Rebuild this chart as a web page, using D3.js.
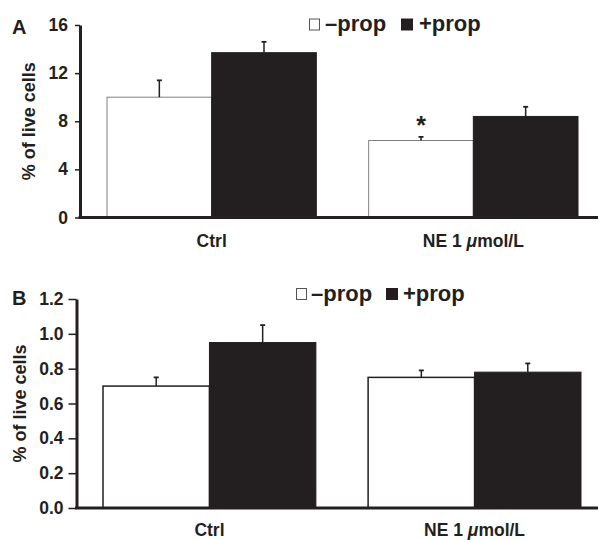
<!DOCTYPE html>
<html>
<head>
<meta charset="utf-8">
<script src="https://cdn.jsdelivr.net/npm/d3@7"></script>
<style>
    body { margin: 0; background: #fff; }
    svg { display: block; font-family: "Liberation Sans", Arial, sans-serif; font-weight: bold; }
</style>
</head>
<body>
<script>
// bar chart, two panels (A and B), -prop / +prop per condition

const categories = ['Ctrl', 'NE 1 μmol/L'];
const seriesNames = ['–prop', '+prop'];

// panel A values (% of live cells) and SEM
const aMinusProp = [10.0, 6.4];
const aMinusPropErr = [1.4, 0.3];
const aPlusProp = [13.7, 8.4];
const aPlusPropErr = [0.9, 0.8];
const aTicks = [0, 4, 8, 12, 16];
// significance marks: [category, series]
const aStars = [['NE 1 μmol/L', '–prop']];

// panel B values and SEM
const bMinusProp = [0.70, 0.75];
const bMinusPropErr = [0.05, 0.04];
const bPlusProp = [0.95, 0.78];
const bPlusPropErr = [0.10, 0.05];
const bTicks = [0, 0.2, 0.4, 0.6, 0.8, 1.0, 1.2];
const bStars = [];

const ink = '#231f20';

let svg = d3.select('body')
    .append('svg')
    .attr('width', 600)
    .attr('height', 540);

/**
 * builds rows for one panel from the value arrays
 */
function makeRows(minus, minusErr, plus, plusErr) {
    return categories.map((c, i) => ({
        category: c,
        values: [
            { series: seriesNames[0], value: minus[i], err: minusErr[i] },
            { series: seriesNames[1], value: plus[i], err: plusErr[i] }
        ]
    }));
}

function drawPanel(rows, ticks, stars, opt) {
    let g = svg.append('g').attr('id', 'panel-' + opt.letter);

    let yScale = d3.scaleLinear()
        .domain([0, d3.max(ticks)])
        .range([opt.bottom, opt.top]);

    // outer band = condition, inner band = series
    let x0 = d3.scaleBand()
        .domain(categories)
        .range([opt.barLeft, opt.barRight])
        .paddingInner(opt.gap);

    let x1 = d3.scaleBand()
        .domain(seriesNames)
        .range([0, x0.bandwidth()]);

    let groups = g.selectAll('g.group')
        .data(rows)
        .join('g')
        .attr('class', 'group')
        .attr('transform', d => `translate(${x0(d.category)},0)`);

    groups.selectAll('rect')
        .data(d => d.values)
        .join('rect')
        .attr('x', d => x1(d.series))
        .attr('y', d => yScale(d.value))
        .attr('width', x1.bandwidth())
        .attr('height', d => yScale(0) - yScale(d.value))
        .attr('fill', d => d.series == seriesNames[0] ? '#fff' : ink)
        .attr('stroke', d => d.series == seriesNames[0] ? opt.whiteStroke : ink)
        .attr('stroke-width', d => d.series == seriesNames[0] ? opt.whiteStrokeWidth : 1);

    //error bars (upper only)
    let errs = groups.selectAll('g.err')
        .data(d => d.values)
        .join('g')
        .attr('class', 'err')
        .attr('transform', d => `translate(${x1(d.series) + x1.bandwidth() / 2},0)`);

    errs.append('line')
        .attr('x1', 0).attr('x2', 0)
        .attr('y1', d => yScale(d.value))
        .attr('y2', d => yScale(d.value + d.err))
        .attr('stroke', ink)
        .attr('stroke-width', 1.5);

    errs.append('line')
        .attr('x1', -2.5).attr('x2', 2.5)
        .attr('y1', d => yScale(d.value + d.err))
        .attr('y2', d => yScale(d.value + d.err))
        .attr('stroke', ink)
        .attr('stroke-width', 1.8);

    // asterisks
    stars.forEach(([cat, ser]) => {
        let row = rows.find(r => r.category == cat);
        let v = row.values.find(d => d.series == ser);
        g.append('text')
            .attr('x', x0(cat) + x1(ser) + x1.bandwidth() / 2)
            .attr('y', yScale(v.value + v.err) - 3)
            .attr('text-anchor', 'middle')
            .attr('font-size', '25px')
            .attr('fill', ink)
            .text('*');
    });

    // y axis
    let yAxis = d3.axisLeft(yScale)
        .tickValues(ticks)
        .tickFormat(d3.format(opt.format))
        .tickSize(opt.tickLen)
        .tickSizeOuter(0)
        .tickPadding(opt.tickPad);

    g.append('g')
        .attr('transform', `translate(${opt.axisX},0)`)
        .call(yAxis)
        .call(a => a.select('.domain').attr('stroke', ink).attr('stroke-width', 3))
        .call(a => a.selectAll('.tick line').attr('stroke', ink).attr('stroke-width', 1.5))
        .call(a => a.selectAll('.tick text')
            .attr('fill', ink)
            .attr('font-size', '17.5px')
            .attr('font-family', null)
            .attr('font-weight', 'bold'));

    // x baseline runs past the bars to the right edge
    g.append('line')
        .attr('x1', opt.axisX - 1.5)
        .attr('x2', 598)
        .attr('y1', yScale(0))
        .attr('y2', yScale(0))
        .attr('stroke', ink)
        .attr('stroke-width', 3);

    let xAxis = d3.axisBottom(x0).tickSize(0);
    g.append('g')
        .attr('transform', `translate(0,${yScale(0)})`)
        .call(xAxis)
        .call(a => a.select('.domain').remove())
        .call(a => a.selectAll('.tick text')
            .attr('y', opt.catOffset)
            .attr('dy', 0)
            .attr('fill', ink)
            .attr('font-size', '17.5px')
            .attr('font-family', null)
            .attr('font-weight', 'bold')
            .each(function (d) {
                // italic mu
                if (d.includes('μ')) {
                    let t = d3.select(this).text(null);
                    let parts = d.split('μ');
                    t.append('tspan').text(parts[0]);
                    t.append('tspan').attr('font-style', 'italic').text('μ');
                    t.append('tspan').text(parts[1]);
                }
            }));

    // y label
    g.append('text')
        .attr('transform', `translate(${opt.labelX},${(opt.top + opt.bottom) / 2}) rotate(-90)`)
        .attr('text-anchor', 'middle')
        .attr('font-size', '18px')
        .attr('fill', ink)
        .text('% of live cells');

    // panel letter
    g.append('text')
        .attr('x', 12)
        .attr('y', opt.letterY)
        .attr('font-size', '20px')
        .attr('fill', ink)
        .text(opt.letter);

    // legend
    let lg = g.append('g').attr('transform', `translate(${opt.legendX},${opt.legendY})`);
    lg.append('rect')
        .attr('x', 0.5).attr('y', 0.5)
        .attr('width', 10).attr('height', 11)
        .attr('fill', '#fff')
        .attr('stroke', '#555')
        .attr('stroke-width', 1);
    lg.append('text')
        .attr('x', opt.legendText1)
        .attr('y', 12.5)
        .attr('font-size', '22px')
        .attr('fill', ink)
        .text(seriesNames[0]);
    lg.append('rect')
        .attr('x', opt.legendSq2)
        .attr('y', 0)
        .attr('width', 12).attr('height', 12)
        .attr('fill', ink);
    lg.append('text')
        .attr('x', opt.legendText2)
        .attr('y', 12.5)
        .attr('font-size', '22px')
        .attr('fill', ink)
        .text(seriesNames[1]);
}

drawPanel(makeRows(aMinusProp, aMinusPropErr, aPlusProp, aPlusPropErr), aTicks, aStars, {
    letter: 'A', letterY: 34,
    top: 25, bottom: 217.5,
    axisX: 80, tickLen: 5, tickPad: 7,
    barLeft: 107, barRight: 578, gap: 0.2,
    format: 'd',
    whiteStroke: '#808080', whiteStrokeWidth: 1,
    labelX: 35, catOffset: 29,
    legendX: 309, legendY: 18.5, legendText1: 16, legendSq2: 92, legendText2: 110
});

drawPanel(makeRows(bMinusProp, bMinusPropErr, bPlusProp, bPlusPropErr), bTicks, bStars, {
    letter: 'B', letterY: 305,
    top: 299, bottom: 508,
    axisX: 76.5, tickLen: 8, tickPad: 5,
    barLeft: 103, barRight: 581, gap: 0.197,
    format: '.1f',
    whiteStroke: ink, whiteStrokeWidth: 1.5,
    labelX: 26, catOffset: 28,
    legendX: 296, legendY: 288, legendText1: 15, legendSq2: 90, legendText2: 107
});
</script>
</body>
</html>
